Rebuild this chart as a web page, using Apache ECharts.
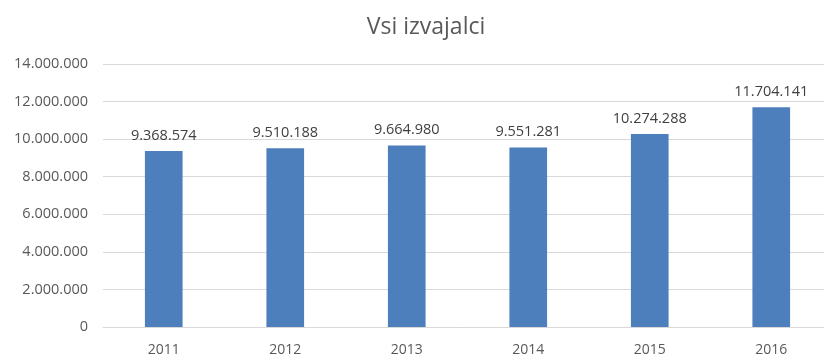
<!DOCTYPE html>
<html>
<head>
<meta charset="utf-8">
<script src="https://cdn.jsdelivr.net/npm/echarts@6/dist/echarts.min.js"></script>
<style>
  html, body { margin: 0; padding: 0; background: #fff; }
  #chart { width: 824px; height: 356px; }
</style>
</head>
<body>
<div id="chart"></div>
<script>
const titleText = 'Vsi izvajalci';
const years = ['2011', '2012', '2013', '2014', '2015', '2016'];
const workers = [9368574, 9510188, 9664980, 9551281, 10274288, 11704141];
const yMax = 14000000;
const yStep = 2000000;

// Thousands separated by dots, e.g. 9.368.574
function fmt(v) {
  return String(Math.round(v)).replace(/\B(?=(\d{3})+(?!\d))/g, '.');
}

const chart = echarts.init(document.getElementById('chart'), null, { renderer: 'canvas' });
chart.setOption({
  animation: false,
  backgroundColor: '#ffffff',
  title: {
    text: titleText,
    left: 421,
    textAlign: 'center',
    top: 11,
    textStyle: { fontFamily: 'Open Sans', fontSize: 23, fontWeight: 'normal', color: '#595959' }
  },
  // plot area runs slightly past the right edge of the canvas
  grid: { left: 103, width: 729, top: 64, bottom: 29, containLabel: false, outerBoundsMode: 'none' },
  xAxis: {
    type: 'category',
    data: years,
    axisLine: { show: true, lineStyle: { color: '#d9d9d9' } },
    axisTick: { show: false },
    axisLabel: { color: '#595959', fontFamily: 'Open Sans', fontSize: 14, margin: 16 }
  },
  yAxis: {
    type: 'value',
    min: 0,
    max: yMax,
    interval: yStep,
    axisLine: { show: false },
    axisTick: { show: false },
    splitLine: { lineStyle: { color: '#d9d9d9', width: 1 } },
    axisLabel: {
      color: '#595959', fontFamily: 'Open Sans', fontSize: 14.5, margin: 15,
      formatter: fmt
    }
  },
  series: [{
    type: 'bar',
    data: workers,
    barWidth: '31%',
    itemStyle: { color: '#4e7fbd' },
    label: {
      show: true,
      position: 'top',
      distance: 8,
      color: '#404040',
      fontFamily: 'Open Sans',
      fontSize: 14.5,
      formatter: p => fmt(p.value)
    }
  }]
});
</script>
</body>
</html>
